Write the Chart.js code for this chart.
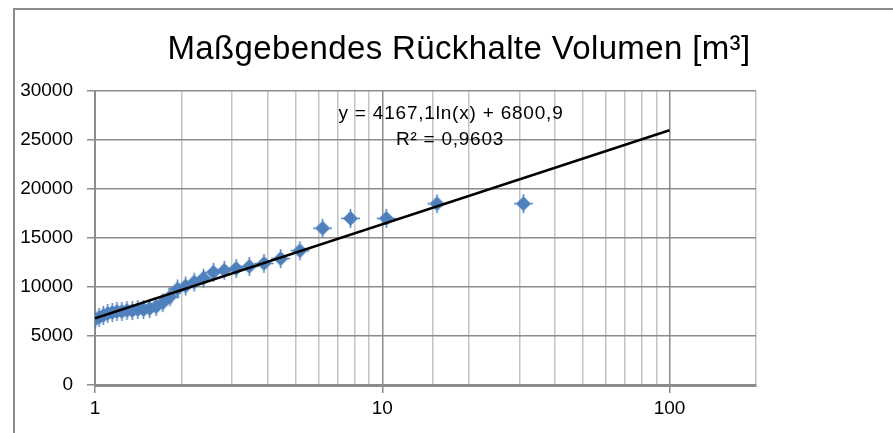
<!DOCTYPE html>
<html>
<head>
<meta charset="utf-8">
<script src="https://cdn.jsdelivr.net/npm/chart.js@4/dist/chart.umd.min.js"></script>
<style>
  html, body { margin: 0; padding: 0; background: #fff; }
</style>
</head>
<body>
<canvas id="myChart" width="893" height="433"></canvas>
<script>
const chartTitle = 'Maßgebendes Rückhalte Volumen [m³]';
const trendText = 'y = 4167,1ln(x) + 6800,9';
const r2Text = 'R² = 0,9603';

// Jährlichkeit (x) and Volumen (y)
const returnPeriod = [1.0, 1.033, 1.069, 1.107, 1.148, 1.192, 1.24, 1.292, 1.348, 1.409,
    1.476, 1.55, 1.632, 1.722, 1.824, 1.938, 2.067, 2.214, 2.385, 2.583,
    2.818, 3.1, 3.444, 3.875, 4.429, 5.167, 6.2, 7.75, 10.33, 15.5, 31];
const volume = [6700, 6900, 7100, 7300, 7400, 7500, 7500, 7600, 7600, 7700,
    7700, 7800, 8000, 8400, 9000, 9800, 10100, 10500, 10900, 11500,
    11700, 11900, 12100, 12400, 12900, 13700, 16000, 17000, 17000, 18500, 18500];

// log trendline is straight on a log axis, so the two end points are enough
const trendX = [1, 100];
const trendY = [6801, 25991];

const xLabels = [1, 10, 100];
const yMax = 30000;
const yStep = 5000;

const gridDark = '#8c8c8c';
const gridLight = '#c3c3c3';
const blue = '#4f81bd';
const labelFont = '"Liberation Sans", Arial, sans-serif';

function isPow10(v) {
    const l = Math.log10(v);
    return Math.abs(l - Math.round(l)) < 1e-9;
}

function makeMarker() {
    const c = document.createElement('canvas');
    c.width = 21; c.height = 21;
    const g = c.getContext('2d');
    const m = 10.5;
    g.fillStyle = blue;
    g.beginPath();
    g.moveTo(m, m - 7.5); g.lineTo(m + 7.5, m); g.lineTo(m, m + 7.5); g.lineTo(m - 7.5, m);
    g.closePath();
    g.fill();
    g.strokeStyle = blue;
    g.lineWidth = 1.5;
    g.beginPath();
    g.moveTo(m, 1); g.lineTo(m, 20);
    g.moveTo(1, m); g.lineTo(20, m);
    g.stroke();
    return c;
}

function fitText(c, text, x, y, width) {
    c.letterSpacing = '0px';
    const w = c.measureText(text).width;
    c.letterSpacing = ((width - w) / text.length) + 'px';
    c.fillText(text, x, y);
    c.letterSpacing = '0px';
}

const framePlugin = {
    id: 'frame',
    beforeDraw(chart) {
        const ctx = chart.ctx;
        ctx.save();
        ctx.fillStyle = '#fff';
        ctx.fillRect(0, 0, chart.width, chart.height);
        ctx.strokeStyle = gridDark;
        ctx.lineWidth = 2;
        ctx.beginPath();
        ctx.moveTo(14, chart.height);
        ctx.lineTo(14, 9);
        ctx.lineTo(chart.width, 9);
        ctx.stroke();
        ctx.restore();
    },
    afterDraw(chart) {
        const ctx = chart.ctx;
        ctx.save();
        ctx.fillStyle = '#000';
        ctx.textAlign = 'center';
        ctx.textBaseline = 'alphabetic';
        ctx.font = '33px "Liberation Sans Narrow", "Liberation Sans", Arial, sans-serif';
        fitText(ctx, chartTitle, 459, 59, 583);
        ctx.font = '19px "Liberation Sans Narrow", "Liberation Sans", Arial, sans-serif';
        fitText(ctx, trendText, 451, 119, 225);
        fitText(ctx, r2Text, 450, 145, 108);
        ctx.restore();
    }
};

const ctx = document.getElementById('myChart');
const myChart = new Chart(ctx, {
    type: 'scatter',
    data: {
        datasets: [{
            label: 'Trend',
            data: trendX.map((x, i) => ({ x: x, y: trendY[i] })),
            showLine: true,
            borderColor: '#000',
            borderWidth: 2.5,
            pointRadius: 0,
            pointHoverRadius: 0
        }, {
            label: 'Volumen',
            data: returnPeriod.map((x, i) => ({ x: x, y: volume[i] })),
            pointStyle: makeMarker(),
            backgroundColor: blue,
            borderColor: blue
        }]
    },
    options: {
        responsive: false,
        devicePixelRatio: 1,
        animation: false,
        layout: { padding: { left: 0, right: 137, top: 91, bottom: 0 } },
        plugins: {
            legend: { display: false },
            title: { display: false },
            tooltip: { enabled: false }
        },
        scales: {
            x: {
                type: 'logarithmic',
                min: 1,
                max: 200,
                afterFit: s => { s.height = 48; },
                afterBuildTicks: s => {
                    s.ticks = s.ticks.filter(t => t.value <= 100 || t.value === 200);
                },
                border: { color: gridDark, width: 3 },
                grid: {
                    lineWidth: 1.5,
                    tickLength: 8,
                    color: c => isPow10(c.tick.value) ? gridDark : gridLight,
                    tickColor: c => isPow10(c.tick.value) ? gridDark : 'rgba(0,0,0,0)'
                },
                ticks: {
                    autoSkip: false,
                    maxRotation: 0,
                    padding: 4,
                    color: '#000',
                    font: { family: labelFont, size: 19 },
                    callback: v => xLabels.includes(v) ? String(v) : ''
                }
            },
            y: {
                min: 0,
                max: yMax,
                afterFit: s => { s.width = 95; },
                border: { color: gridDark, width: 2 },
                grid: {
                    lineWidth: 1.5,
                    tickLength: 8,
                    color: gridDark,
                    tickColor: gridDark
                },
                ticks: {
                    stepSize: yStep,
                    padding: 14,
                    color: '#000',
                    font: { family: labelFont, size: 19 },
                    callback: v => String(v)
                }
            }
        }
    },
    plugins: [framePlugin]
});
</script>
</body>
</html>
